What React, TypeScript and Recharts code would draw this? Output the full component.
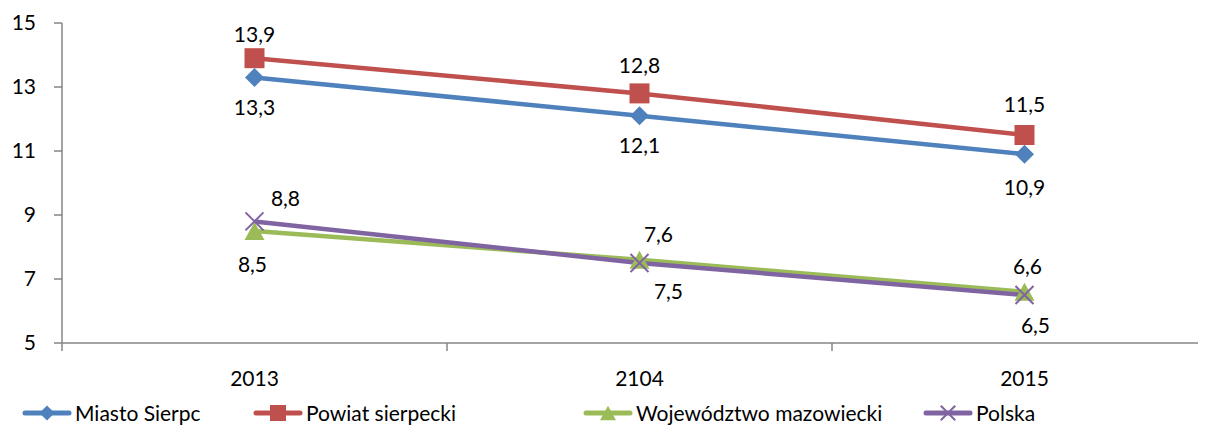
import React from "react";
import { LineChart, Line, XAxis, YAxis, Legend, LabelList } from "recharts";

// category labels (as printed on the chart, including the "2104" typo)
const years = ["2013", "2104", "2015"];

// series values
const miastoSierpc = [13.3, 12.1, 10.9];
const powiatSierpecki = [13.9, 12.8, 11.5];
const wojewodztwoMazowieckie = [8.5, 7.6, 6.6];
const polska = [8.8, 7.5, 6.5];

const yTicks = [5, 7, 9, 11, 13, 15];

const data = years.map((year, i) => ({
  year,
  pos: i + 0.5,
  miasto: miastoSierpc[i],
  powiat: powiatSierpecki[i],
  woj: wojewodztwoMazowieckie[i],
  polska: polska[i],
}));

// boundary ticks on integers, category labels on the half-steps
const xTicks = [0, 0.5, 1, 1.5, 2, 2.5, 3];

const SERIES = [
  { key: "miasto", name: "Miasto Sierpc", color: "#4F81BD", marker: "diamond" },
  { key: "powiat", name: "Powiat sierpecki", color: "#C0504D", marker: "square" },
  { key: "woj", name: "Województwo mazowiecki", color: "#9BBB59", marker: "triangle" },
  { key: "polska", name: "Polska", color: "#8064A2", marker: "x" },
];

// where each data label sits relative to its point [dx, dy]
const LABEL_OFFSETS: Record<string, number[][]> = {
  miasto: [[0, 29], [0, 29], [0, 32]],
  powiat: [[0, -25], [0, -29], [0, -32]],
  woj: [[-2, 32], [19, -26], [3, -26]],
  polska: [[31, -24], [29, 27], [11, 29]],
};

const AXIS_COLOR = "#868686";
const FONT = "Lato, 'Open Sans', sans-serif";
const FS = 21;

function Marker({ kind, cx, cy, color, s = 1 }: any) {
  if (kind === "diamond") {
    const r = 9.5 * s;
    return <polygon points={`${cx},${cy - r} ${cx + r},${cy} ${cx},${cy + r} ${cx - r},${cy}`} fill={color} />;
  }
  if (kind === "square") {
    const r = 10 * s;
    return <rect x={cx - r} y={cy - r} width={2 * r} height={2 * r} fill={color} />;
  }
  if (kind === "triangle") {
    const w = 10 * s;
    const h = 9 * s;
    return <polygon points={`${cx},${cy - h} ${cx + w},${cy + h} ${cx - w},${cy + h}`} fill={color} />;
  }
  const r = 9 * s;
  return (
    <g stroke={color} strokeWidth={2}>
      <line x1={cx - r} y1={cy - r} x2={cx + r} y2={cy + r} />
      <line x1={cx - r} y1={cy + r} x2={cx + r} y2={cy - r} />
    </g>
  );
}

const XTick = ({ x, y, payload }: any) => {
  const v = payload.value;
  if (Number.isInteger(v)) {
    return <line x1={x} y1={y} x2={x} y2={y + 8} stroke={AXIS_COLOR} strokeWidth={1.5} />;
  }
  return (
    <text x={x} y={y + 34} textAnchor="middle" dominantBaseline="central" fontSize={FS} fill="#000">
      {years[Math.floor(v)]}
    </text>
  );
};

const makeLabel = (key: string) => (props: any) => {
  const { x, y, value, index } = props;
  const [dx, dy] = LABEL_OFFSETS[key][index];
  return (
    <text
      key={`${key}-lbl-${index}`}
      x={x + dx}
      y={y + dy}
      textAnchor="middle"
      dominantBaseline="central"
      fontSize={FS}
      fill="#000"
    >
      {String(value).replace(".", ",")}
    </text>
  );
};

const LEGEND_WIDTHS = [231, 330, 340, 200];

const LegendContent = () => (
  <div style={{ display: "flex", paddingLeft: 22, marginTop: 4, height: 31, alignItems: "center", fontFamily: FONT }}>
    {SERIES.map((s, i) => (
      <div key={s.key} style={{ width: LEGEND_WIDTHS[i], display: "flex", alignItems: "center" }}>
        <svg width={50} height={24} style={{ marginRight: 3 }}>
          <line x1={3} y1={12} x2={47} y2={12} stroke={s.color} strokeWidth={5} strokeLinecap="round" />
          <Marker kind={s.marker} cx={25} cy={12} color={s.color} s={0.8} />
        </svg>
        <span style={{ fontSize: FS, color: "#000", whiteSpace: "nowrap" }}>{s.name}</span>
      </div>
    ))}
  </div>
);

export default function App() {
  return (
    <div
      style={{
        width: 1206,
        height: 428,
        margin: "-8px 0 0 -8px",
        overflow: "hidden",
        background: "#fff",
        fontFamily: FONT,
      }}
    >
      <LineChart width={1217} height={428} data={data} margin={{ top: 23, right: 0, bottom: 0, left: 0 }}>
        <XAxis
          dataKey="pos"
          type="number"
          domain={[0, 3]}
          ticks={xTicks}
          interval={0}
          tick={<XTick />}
          tickLine={false}
          tickSize={0}
          tickMargin={0}
          height={50}
          axisLine={{ stroke: AXIS_COLOR, strokeWidth: 1.5 }}
        />
        <YAxis
          domain={[5, 15]}
          ticks={yTicks}
          interval={0}
          width={62}
          tickSize={8}
          tickMargin={18}
          tick={{ fontSize: FS, fill: "#000" }}
          tickLine={{ stroke: AXIS_COLOR, strokeWidth: 1.5 }}
          axisLine={{ stroke: AXIS_COLOR, strokeWidth: 1.5 }}
        />
        <Legend
          verticalAlign="bottom"
          align="left"
          content={<LegendContent />}
          wrapperStyle={{ left: 0, width: 1206, height: 35 }}
        />
        {SERIES.map((s) => (
          <Line
            key={s.key}
            dataKey={s.key}
            name={s.name}
            type="linear"
            stroke={s.color}
            strokeWidth={4.5}
            dot={(p: any) => <Marker key={`${s.key}-dot-${p.index}`} kind={s.marker} cx={p.cx} cy={p.cy} color={s.color} />}
            activeDot={false}
            isAnimationActive={false}
          >
            <LabelList dataKey={s.key} content={makeLabel(s.key)} />
          </Line>
        ))}
      </LineChart>
    </div>
  );
}
